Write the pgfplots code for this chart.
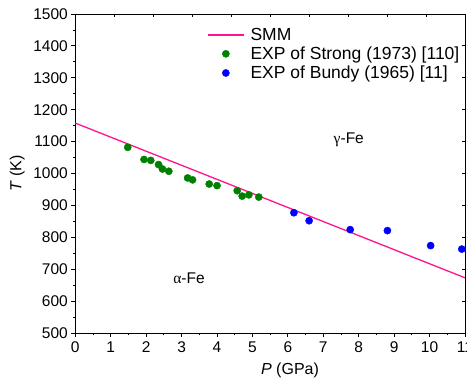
\documentclass[border=0pt]{standalone}
\usepackage{fontspec}
\setmainfont{Liberation Sans}
\newfontfamily\grk{Liberation Serif}
\usepackage{pgfplots}
\pgfplotsset{compat=1.18}
\definecolor{smmpink}{RGB}{255,20,140}
\definecolor{expgreen}{RGB}{0,128,0}
\definecolor{expblue}{RGB}{0,0,255}
\pgfplotsset{
  lineleg/.style={legend image code/.code={\draw[##1, line width=1.3pt] (0pt,0pt) -- (36pt,0pt);}},
  markleg/.style={legend image code/.code={\draw[##1] plot coordinates {(18pt,0pt)};}},
}
\begin{document}
\begin{tikzpicture}
\begin{axis}[
  scale only axis,
  width=389.7pt, height=319pt,
  xmin=0, xmax=11, ymin=500, ymax=1500,
  xtick={0,...,11},
  ytick={500,600,...,1500},
  minor x tick num=1,
  minor y tick num=1,
  xtick pos=bottom, ytick pos=left,
  tick align=outside,
  major tick length=4pt, minor tick length=2.2pt,
  axis line style={line width=0.9pt},
  every tick/.style={black, line width=0.8pt},
  /pgf/number format/assume math mode=true,
  /pgf/number format/set thousands separator={},
  ticklabel style={font=\fontsize{15.5}{18}\selectfont},
  xticklabel style={yshift=-1pt},
  xlabel={\textit{P} (GPa)},
  ylabel={\textit{T} (K)},
  every axis x label/.style={at={([yshift=-37pt]axis description cs:0.551,0)}, anchor=center, font=\fontsize{16}{19}\selectfont},
  every axis y label/.style={at={([xshift=-58pt]axis description cs:0,0.5)}, rotate=90, anchor=center, font=\fontsize{16}{19}\selectfont},
  legend style={draw=none, fill=none, inner sep=0pt, at={(rel axis cs:0.338,0.963)}, anchor=north west,
    font=\fontsize{17.5}{20}\selectfont, row sep=1pt, column sep=4pt, cells={anchor=west}},
]
\addplot[smmpink, line width=1.3pt, lineleg]
  coordinates {(0,1158) (11,673)};
\addlegendentry{SMM}
\addplot[only marks, mark=*, mark size=3.6pt, draw=expgreen, fill=expgreen, markleg]
  table {
x y
1.48 1082
1.94 1044
2.13 1041
2.35 1028
2.46 1014
2.64 1007
3.17 986
3.31 980
3.78 967
4.00 962
4.57 946
4.71 929
4.90 933
5.18 926
};
\addlegendentry{EXP of Strong (1973) [110]}
\addplot[only marks, mark=*, mark size=3.6pt, draw=expblue, fill=expblue, markleg]
  table {
x y
6.17 877
6.60 852
7.76 824
8.81 821
10.03 774
10.91 763
};
\addlegendentry{EXP of Bundy (1965) [11]}
\node[font=\fontsize{15.5}{18}\selectfont] at (axis cs:7.72,1105) {{\grk γ}-Fe};
\node[font=\fontsize{15.5}{18}\selectfont] at (axis cs:3.21,672) {{\grk α}-Fe};
\coordinate (sw) at (rel axis cs:0,0);
\coordinate (ne) at (rel axis cs:1,1);
\end{axis}
\begin{axis}[
  scale only axis,
  width=389.7pt, height=319pt,
  xmin=0, xmax=10, ymin=500, ymax=1500,
  xtick={1,...,9}, ytick={600,700,...,1400},
  xticklabels={}, yticklabels={},
  xtick pos=top, ytick pos=right,
  tick align=inside,
  major tick length=2.8pt,
  axis line style={draw=none},
  every tick/.style={black, line width=0.8pt},
]
\end{axis}
\pgfresetboundingbox
\useasboundingbox ([shift={(-75.3pt,-46pt)}]sw) rectangle ([shift={(2pt,14pt)}]ne);
\end{tikzpicture}
\end{document}
